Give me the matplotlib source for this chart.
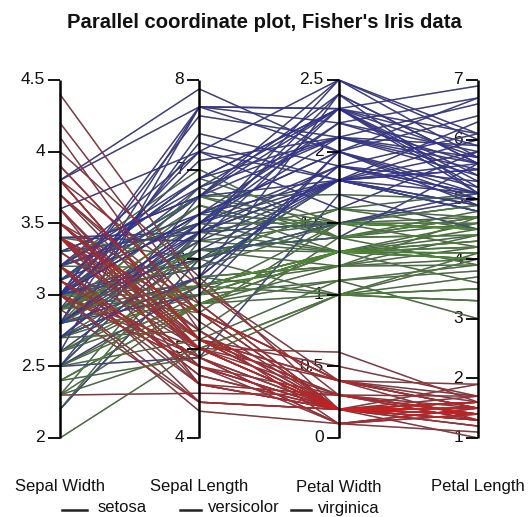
import numpy as np
import matplotlib
matplotlib.use("Agg")
import matplotlib.pyplot as plt
from matplotlib.collections import LineCollection
from matplotlib.lines import Line2D

plt.rcParams['font.family'] = ['Liberation Sans', 'DejaVu Sans']

# Fisher's Iris data
sepal_length = [
    5.1,4.9,4.7,4.6,5.0,5.4,4.6,5.0,4.4,4.9,5.4,4.8,4.8,4.3,5.8,5.7,5.4,5.1,5.7,5.1,
    5.4,5.1,4.6,5.1,4.8,5.0,5.0,5.2,5.2,4.7,4.8,5.4,5.2,5.5,4.9,5.0,5.5,4.9,4.4,5.1,
    5.0,4.5,4.4,5.0,5.1,4.8,5.1,4.6,5.3,5.0,
    7.0,6.4,6.9,5.5,6.5,5.7,6.3,4.9,6.6,5.2,5.0,5.9,6.0,6.1,5.6,6.7,5.6,5.8,6.2,5.6,
    5.9,6.1,6.3,6.1,6.4,6.6,6.8,6.7,6.0,5.7,5.5,5.5,5.8,6.0,5.4,6.0,6.7,6.3,5.6,5.5,
    5.5,6.1,5.8,5.0,5.6,5.7,5.7,6.2,5.1,5.7,
    6.3,5.8,7.1,6.3,6.5,7.6,4.9,7.3,6.7,7.2,6.5,6.4,6.8,5.7,5.8,6.4,6.5,7.7,7.7,6.0,
    6.9,5.6,7.7,6.3,6.7,7.2,6.2,6.1,6.4,7.2,7.4,7.9,6.4,6.3,6.1,7.7,6.3,6.4,6.0,6.9,
    6.7,6.9,5.8,6.8,6.7,6.7,6.3,6.5,6.2,5.9]
sepal_width = [
    3.5,3.0,3.2,3.1,3.6,3.9,3.4,3.4,2.9,3.1,3.7,3.4,3.0,3.0,4.0,4.4,3.9,3.5,3.8,3.8,
    3.4,3.7,3.6,3.3,3.4,3.0,3.4,3.5,3.4,3.2,3.1,3.4,4.1,4.2,3.1,3.2,3.5,3.6,3.0,3.4,
    3.5,2.3,3.2,3.5,3.8,3.0,3.8,3.2,3.7,3.3,
    3.2,3.2,3.1,2.3,2.8,2.8,3.3,2.4,2.9,2.7,2.0,3.0,2.2,2.9,2.9,3.1,3.0,2.7,2.2,2.5,
    3.2,2.8,2.5,2.8,2.9,3.0,2.8,3.0,2.9,2.6,2.4,2.4,2.7,2.7,3.0,3.4,3.1,2.3,3.0,2.5,
    2.6,3.0,2.6,2.3,2.7,3.0,2.9,2.9,2.5,2.8,
    3.3,2.7,3.0,2.9,3.0,3.0,2.5,2.9,2.5,3.6,3.2,2.7,3.0,2.5,2.8,3.2,3.0,3.8,2.6,2.2,
    3.2,2.8,2.8,2.7,3.3,3.2,2.8,3.0,2.8,3.0,2.8,3.8,2.8,2.8,2.6,3.0,3.4,3.1,3.0,3.1,
    3.1,3.1,2.7,3.2,3.3,3.0,2.5,3.0,3.4,3.0]
petal_length = [
    1.4,1.4,1.3,1.5,1.4,1.7,1.4,1.5,1.4,1.5,1.5,1.6,1.4,1.1,1.2,1.5,1.3,1.4,1.7,1.5,
    1.7,1.5,1.0,1.7,1.9,1.6,1.6,1.5,1.4,1.6,1.6,1.5,1.5,1.4,1.5,1.2,1.3,1.4,1.3,1.5,
    1.3,1.3,1.3,1.6,1.9,1.4,1.6,1.4,1.5,1.4,
    4.7,4.5,4.9,4.0,4.6,4.5,4.7,3.3,4.6,3.9,3.5,4.2,4.0,4.7,3.6,4.4,4.5,4.1,4.5,3.9,
    4.8,4.0,4.9,4.7,4.3,4.4,4.8,5.0,4.5,3.5,3.8,3.7,3.9,5.1,4.5,4.5,4.7,4.4,4.1,4.0,
    4.4,4.6,4.0,3.3,4.2,4.2,4.2,4.3,3.0,4.1,
    6.0,5.1,5.9,5.6,5.8,6.6,4.5,6.3,5.8,6.1,5.1,5.3,5.5,5.0,5.1,5.3,5.5,6.7,6.9,5.0,
    5.7,4.9,6.7,4.9,5.7,6.0,4.8,4.9,5.6,5.8,6.1,6.4,5.6,5.1,5.6,6.1,5.6,5.5,4.8,5.4,
    5.6,5.1,5.1,5.9,5.7,5.2,5.0,5.2,5.4,5.1]
petal_width = [
    0.2,0.2,0.2,0.2,0.2,0.4,0.3,0.2,0.2,0.1,0.2,0.2,0.1,0.1,0.2,0.4,0.4,0.3,0.3,0.3,
    0.2,0.4,0.2,0.5,0.2,0.2,0.4,0.2,0.2,0.2,0.2,0.4,0.1,0.2,0.2,0.2,0.2,0.1,0.2,0.2,
    0.3,0.3,0.2,0.6,0.4,0.3,0.2,0.2,0.2,0.2,
    1.4,1.5,1.5,1.3,1.5,1.3,1.6,1.0,1.3,1.4,1.0,1.5,1.0,1.4,1.3,1.4,1.5,1.0,1.5,1.1,
    1.8,1.3,1.5,1.2,1.3,1.4,1.4,1.7,1.5,1.0,1.1,1.0,1.2,1.6,1.5,1.6,1.5,1.3,1.3,1.3,
    1.2,1.4,1.2,1.0,1.3,1.2,1.3,1.3,1.1,1.3,
    2.5,1.9,2.1,1.8,2.2,2.1,1.7,1.8,1.8,2.5,2.0,1.9,2.1,2.0,2.4,2.3,1.8,2.2,2.3,1.5,
    2.3,2.0,2.0,1.8,2.1,1.8,1.8,1.8,2.1,1.6,1.9,2.0,2.2,1.5,1.4,2.3,2.4,1.8,1.8,2.1,
    2.4,2.3,1.9,2.3,2.5,2.3,1.9,2.0,2.3,1.8]
species = ['setosa'] * 50 + ['versicolor'] * 50 + ['virginica'] * 50

species_names = ['setosa', 'versicolor', 'virginica']
species_colors = {'setosa': '#d21e1e', 'versicolor': '#4f9a2a', 'virginica': '#2a2ab4'}

axis_names = ['Sepal Width', 'Sepal Length', 'Petal Width', 'Petal Length']
axis_lo = [2.0, 4.0, 0.0, 1.0]
axis_hi = [4.5, 8.0, 2.5, 7.0]
axis_ticks = [
    [2, 2.5, 3, 3.5, 4, 4.5],
    [4, 5, 6, 7, 8],
    [0, 0.5, 1, 1.5, 2, 2.5],
    [1, 2, 3, 4, 5, 6, 7],
]
axis_ticklabels = [
    ['2', '2.5', '3', '3.5', '4', '4.5'],
    ['4', '5', '6', '7', '8'],
    ['0', '0.5', '1', '1.5', '2', '2.5'],
    ['1', '2', '3', '4', '5', '6', '7'],
]

W, H = 529, 517
fig = plt.figure(figsize=(W / 100, H / 100), dpi=100)
fig.patch.set_facecolor('white')

x_left, x_right, y_top, y_bot = 60, 478, 80, 438
ax = fig.add_axes([x_left / W, (H - y_bot) / H, (x_right - x_left) / W, (y_bot - y_top) / H])
ax.set_xlim(0, 3)
ax.set_ylim(0, 1)
ax.axis('off')

cols = [sepal_width, sepal_length, petal_width, petal_length]
data = np.array(cols).T
lo = np.array(axis_lo)
hi = np.array(axis_hi)
norm = (data - lo) / (hi - lo)
xs = np.arange(len(axis_names))

segs = [np.column_stack([xs, row]) for row in norm]
gray = LineCollection(segs, colors='#4a4a55', linewidths=1.0, zorder=2, clip_on=False)
ax.add_collection(gray)

order = ['versicolor', 'virginica', 'setosa']
for sp in order:
    sp_segs = [s for s, name in zip(segs, species) if name == sp]
    lc = LineCollection(sp_segs, colors=species_colors[sp], linewidths=1.1,
                        alpha=0.36, zorder=3, clip_on=False)
    ax.add_collection(lc)

px_per_unit = (x_right - x_left) / 3.0
tick_len = 12 / px_per_unit
gap = 3 / px_per_unit

for i in range(len(axis_names)):
    ax.plot([xs[i], xs[i]], [0, 1], color='black', lw=1.8, zorder=6,
            clip_on=False, solid_capstyle='butt')
    for t, lab in zip(axis_ticks[i], axis_ticklabels[i]):
        y = (t - axis_lo[i]) / (axis_hi[i] - axis_lo[i])
        ax.plot([xs[i] - tick_len, xs[i]], [y, y], color='black', lw=1.3,
                zorder=6, clip_on=False, solid_capstyle='butt')
        ax.text(xs[i] - tick_len - gap, y, lab, ha='right', va='center',
                fontsize=12.5, color='#111111', zorder=1)
    fig.text((x_left + xs[i] * px_per_unit) / W, 1 - 487 / H, axis_names[i],
             ha='center', va='center', fontsize=12, color='#111111')

fig.text(264 / W, 1 - 22 / H, "Parallel coordinate plot, Fisher's Iris data",
         ha='center', va='center', fontsize=14.6, fontweight='bold', color='#111111')

# legend
leg_lines = [(62, 87), (180, 201), (291, 311)]
leg_text_x = [98, 208, 318]
for (a, b), tx, name in zip(leg_lines, leg_text_x, species_names):
    fig.add_artist(Line2D([a / W, b / W], [1 - 510 / H, 1 - 510 / H],
                          color='#222222', lw=1.8, transform=fig.transFigure))
    fig.text(tx / W, 1 - 508 / H, name, ha='left', va='center', fontsize=12,
             color='#111111')

fig.savefig('out.png', dpi=100, facecolor='white')
